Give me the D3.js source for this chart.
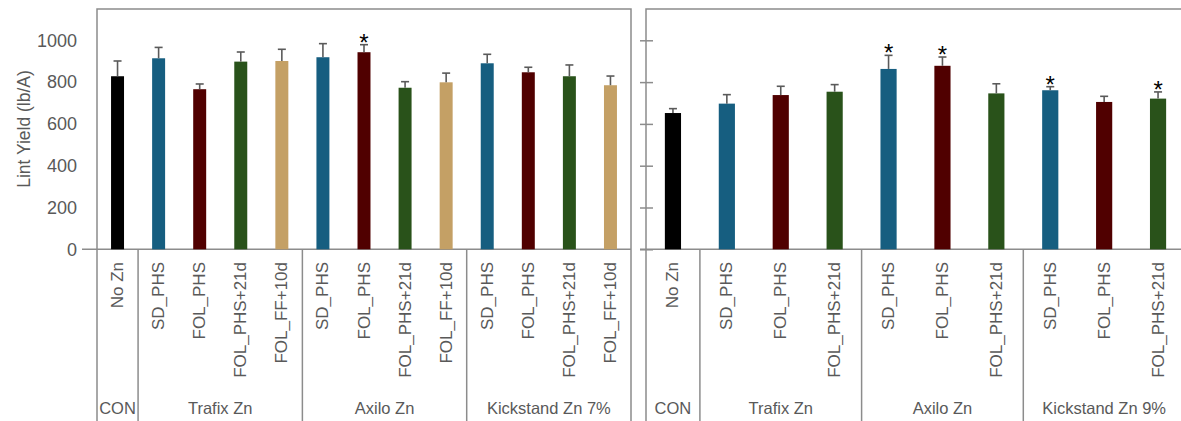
<!DOCTYPE html>
<html>
<head>
<meta charset="utf-8">
<style>
body { margin: 0; background: #fff; }
text { font-family: "Liberation Sans", Arial, sans-serif; fill: #595959; }
.frame { fill: none; stroke: #8c8c8c; stroke-width: 1.5; }
</style>
</head>
<body>
<svg width="1181" height="421"></svg>
<script src="https://d3js.org/d3.v7.min.js"></script>
<script>
  // left panel data
  var leftTreat = ["No Zn", "SD_PHS", "FOL_PHS", "FOL_PHS+21d", "FOL_FF+10d",
    "SD_PHS", "FOL_PHS", "FOL_PHS+21d", "FOL_FF+10d",
    "SD_PHS", "FOL_PHS", "FOL_PHS+21d", "FOL_FF+10d"];
  var leftGroups = [["CON", 1], ["Trafix Zn", 4], ["Axilo Zn", 4], ["Kickstand Zn 7%", 4]];
  var leftYield = [828, 914, 766, 898, 901, 919, 943, 773, 799, 890, 847, 828, 785];
  var leftErr = [73, 52, 25, 46, 56, 65, 36, 29, 44, 43, 24, 54, 44];
  var leftStar = [0, 0, 0, 0, 0, 0, 1, 0, 0, 0, 0, 0, 0];

  // right panel data
  var rightTreat = ["No Zn", "SD_PHS", "FOL_PHS", "FOL_PHS+21d",
    "SD_PHS", "FOL_PHS", "FOL_PHS+21d",
    "SD_PHS", "FOL_PHS", "FOL_PHS+21d"];
  var rightGroups = [["CON", 1], ["Trafix Zn", 3], ["Axilo Zn", 3], ["Kickstand Zn 9%", 3]];
  var rightYield = [652, 697, 738, 754, 863, 878, 746, 761, 705, 721];
  var rightErr = [21, 43, 42, 34, 65, 42, 46, 17, 27, 32];
  var rightStar = [0, 0, 0, 0, 1, 1, 0, 1, 0, 1];

  var yTicks = [0, 200, 400, 600, 800, 1000];

  var colors = {
    "No Zn": "#000000",
    "SD_PHS": "#165e80",
    "FOL_PHS": "#500000",
    "FOL_PHS+21d": "#29521a",
    "FOL_FF+10d": "#c4a065"
  };

  var svg = d3.select("svg");

  var y = d3.scaleLinear().domain([0, 1000]).range([249.3, 40.3]);
  var bottom = 421;

  function panel(x0, x1, treat, groups, vals, errs, stars, pad, showLabels) {
    var g = svg.append("g");
    var x = d3.scaleBand().domain(d3.range(treat.length))
      .range([x0, x1]).paddingInner(pad).paddingOuter(pad / 2);
    var step = x.step();
    var cx = function(i) { return x(i) + x.bandwidth() / 2; };

    // frame
    g.append("path").attr("class", "frame")
      .attr("d", "M" + x0 + "," + bottom + "V9H" + x1 + (x1 < 1181 ? "V" + bottom : ""));

    // y axis
    if (showLabels) {
      var ax = g.append("g").attr("transform", "translate(" + x0 + ",0)")
        .call(d3.axisLeft(y).tickValues(yTicks).tickFormat(d3.format("d")).tickSize(0).tickPadding(20));
      ax.select(".domain").remove();
      ax.selectAll("text").style("font-size", "18px").style("font-family", "'Liberation Sans', Arial, sans-serif").attr("fill", "#595959");
      g.append("line").attr("class", "frame")
        .attr("x1", x0 - 15).attr("x2", x1).attr("y1", y(0)).attr("y2", y(0));
    } else {
      var ax2 = g.append("g").attr("transform", "translate(" + x0 + ",0)")
        .call(d3.axisLeft(y).tickValues(yTicks).tickSize(6).tickFormat(""));
      ax2.select(".domain").remove();
      ax2.selectAll("line").attr("x1", 7).attr("stroke", "#8c8c8c").attr("stroke-width", 1.5);
      g.append("line").attr("class", "frame")
        .attr("x1", x0 - 6).attr("x2", x1).attr("y1", y(0)).attr("y2", y(0));
    }

    // bars
    g.selectAll("rect.bar").data(vals).enter().append("rect")
      .attr("x", function(d, i) { return x(i); })
      .attr("y", function(d) { return y(d); })
      .attr("width", x.bandwidth())
      .attr("height", function(d) { return y(0) - y(d); })
      .attr("fill", function(d, i) { return colors[treat[i]]; });

    // error bars
    var eb = g.selectAll("g.err").data(vals).enter().append("g")
      .attr("stroke", "#5a5a5a").attr("stroke-width", 1.6);
    eb.append("line")
      .attr("x1", function(d, i) { return cx(i); })
      .attr("x2", function(d, i) { return cx(i); })
      .attr("y1", function(d) { return y(d); })
      .attr("y2", function(d, i) { return y(d + errs[i]); });
    eb.append("line")
      .attr("x1", function(d, i) { return cx(i) - 4; })
      .attr("x2", function(d, i) { return cx(i) + 4; })
      .attr("y1", function(d, i) { return y(d + errs[i]); })
      .attr("y2", function(d, i) { return y(d + errs[i]); });

    // significance stars
    var starIdx = d3.range(vals.length).filter(function(i) { return stars[i]; });
    g.selectAll("text.star").data(starIdx).enter().append("text")
      .attr("x", function(i) { return cx(i); })
      .attr("y", function(i) { return y(vals[i] + errs[i]) + 6; })
      .attr("text-anchor", "middle")
      .style("font-size", "24px").style("fill", "#000")
      .text("*");

    // category labels
    g.selectAll("text.cat").data(treat).enter().append("text")
      .attr("transform", function(d, i) {
        return "translate(" + cx(i) + ",262) rotate(-90)";
      })
      .attr("text-anchor", "end")
      .attr("dominant-baseline", "central")
      .style("font-size", "17px")
      .text(function(d) { return d; });

    // group separators and labels
    var idx = 0;
    groups.forEach(function(gr, k) {
      var gx0 = x0 + idx * step;
      var gx1 = x0 + (idx + gr[1]) * step;
      if (k > 0) {
        g.append("line").attr("class", "frame")
          .attr("x1", gx0).attr("x2", gx0).attr("y1", y(0)).attr("y2", bottom);
      }
      g.append("text")
        .attr("x", (gx0 + gx1) / 2).attr("y", 408)
        .attr("text-anchor", "middle")
        .attr("dominant-baseline", "central")
        .style("font-size", "16.5px")
        .text(gr[0]);
      idx += gr[1];
    });
  }

  panel(97, 631, leftTreat, leftGroups, leftYield, leftErr, leftStar, 0.684, true);
  panel(646, 1185, rightTreat, rightGroups, rightYield, rightErr, rightStar, 0.70, false);

  svg.append("text")
    .attr("transform", "translate(24,129) rotate(-90)")
    .attr("text-anchor", "middle")
    .attr("dominant-baseline", "central")
    .style("font-size", "17.5px")
    .text("Lint Yield (lb/A)");
</script>
</body>
</html>
